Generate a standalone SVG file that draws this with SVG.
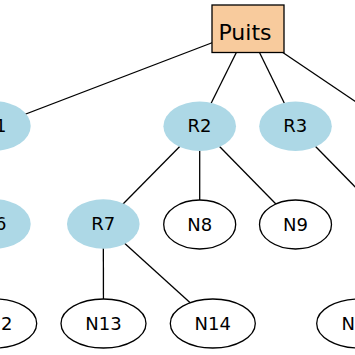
<svg xmlns="http://www.w3.org/2000/svg" width="355" height="355" viewBox="0 0 355 355">
<style>
.e{stroke:#000;stroke-width:1.3;fill:none}
.r{fill:#add8e6;stroke:none}
.n{fill:#fff;stroke:#000;stroke-width:1.3}
text{font-family:"DejaVu Sans",sans-serif;font-size:18px;text-anchor:middle;fill:#000}
</style>
<rect width="355" height="355" fill="#fff"/>
<g id="connectors">
<line class="e" x1="248" y1="29" x2="-5.6" y2="126"/>
<line class="e" x1="248" y1="29" x2="199.7" y2="126.3"/>
<line class="e" x1="248" y1="29" x2="295.5" y2="126"/>
<line class="e" x1="248" y1="29" x2="391.5" y2="126"/>
<line class="e" x1="295.5" y1="126" x2="391.5" y2="224"/>
<line class="e" x1="199.7" y1="126.3" x2="103.3" y2="224"/>
<line class="e" x1="199.7" y1="126.3" x2="199.7" y2="224"/>
<line class="e" x1="199.7" y1="126.3" x2="295.5" y2="224"/>
<line class="e" x1="103.3" y1="224" x2="103.5" y2="323.3"/>
<line class="e" x1="103.3" y1="224" x2="212.8" y2="323.3"/>
</g>
<g id="Puits">
<rect x="212" y="5" width="72" height="47.5" fill="#f8cb9d" stroke="#000" stroke-width="1.3"/>
<text x="245" y="39.5" style="font-size:22px">Puits</text>
</g>
<g id="R1"><ellipse class="r" cx="-5.6" cy="126" rx="36.3" ry="24.7"/><text x="-5.6" y="132">R1</text></g>
<g id="R2"><ellipse class="r" cx="199.7" cy="126.3" rx="36.3" ry="24.7"/><text x="199.5" y="132">R2</text></g>
<g id="R3"><ellipse class="r" cx="295.5" cy="126.3" rx="36.3" ry="24.7"/><text x="295.3" y="132">R3</text></g>
<g id="R6"><ellipse class="r" cx="-5.6" cy="224" rx="36.3" ry="24.7"/><text x="-5.6" y="230">R6</text></g>
<g id="R7"><ellipse class="r" cx="103.3" cy="224" rx="36.3" ry="24.7"/><text x="103.3" y="230">R7</text></g>
<g id="N8"><ellipse class="n" cx="199.7" cy="224.5" rx="36" ry="24.5"/><text x="199.7" y="230.5">N8</text></g>
<g id="N9"><ellipse class="n" cx="295.5" cy="224.5" rx="36" ry="24.5"/><text x="295.5" y="230.5">N9</text></g>
<g id="N12"><ellipse class="n" cx="-5.8" cy="323.5" rx="42.5" ry="24.5"/><text x="-5.8" y="329.5">N12</text></g>
<g id="N13"><ellipse class="n" cx="103.5" cy="323.5" rx="42.5" ry="24.5"/><text x="103.5" y="329.5">N13</text></g>
<g id="N14"><ellipse class="n" cx="212.8" cy="323.5" rx="42.5" ry="24.5"/><text x="212.8" y="329.5">N14</text></g>
<g id="N15"><ellipse class="n" cx="359.2" cy="323.5" rx="42.5" ry="24.5"/><text x="359.7" y="329.5">N15</text></g>
</svg>
